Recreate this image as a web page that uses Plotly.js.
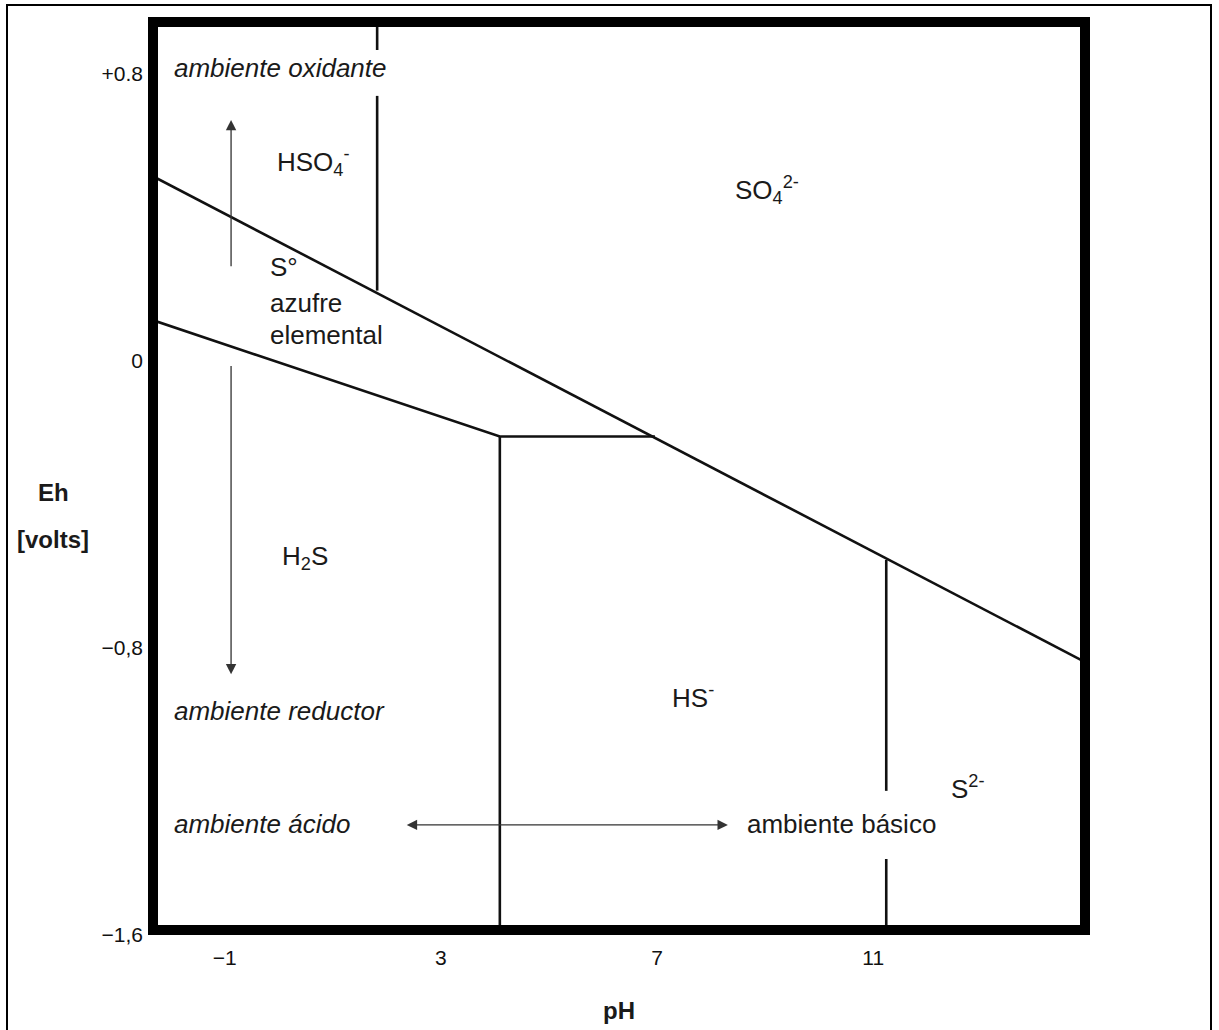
<!DOCTYPE html>
<html>
<head>
<meta charset="utf-8">
<script src="https://cdn.plot.ly/plotly-3.0.1.min.js"></script>
<style>html,body{margin:0;padding:0;background:#fff;}#chart{width:1219px;height:1030px;}</style>
</head>
<body>
<div id="chart"></div>
<script>
// ---- data (pH, Eh in volts) ----
// SO4 2- / reduced species boundary (upper diagonal)
const upperPH = [-2.42, 15.01];
const upperEh = [0.521, -0.848];
// S° / H2S boundary and S° / HS- boundary
const lowerPH = [-2.42, 4.09, 6.96];
const lowerEh = [0.117, -0.212, -0.212];
// vertical boundaries (null = break in the printed line around a label)
const hso4PH = [1.82, 1.82, null, 1.82, 1.82];
const hso4Eh = [0.96, 0.866, null, 0.738, 0.195];
const h2sPH = [4.09, 4.09];
const h2sEh = [-0.212, -1.61];
const hsPH = [11.24, 11.24, null, 11.24, 11.24];
const hsEh = [-0.556, -1.200, null, -1.390, -1.61];

// region labels
const regionText = ["HSO<sub>4</sub><sup>-</sup>", "SO<sub>4</sub><sup>2-</sup>", "S°", "azufre", "elemental",
                    "H<sub>2</sub>S", "HS<sup>-</sup>", "S<sup>2-</sup>"];
const regionPH = [-0.07, 8.40, -0.20, -0.20, -0.20, 0.02, 7.24, 12.40];
const regionEh = [0.555, 0.475, 0.262, 0.161, 0.072, -0.549, -0.936, -1.190];

// environment labels
const envText = ["ambiente oxidante", "ambiente reductor", "ambiente ácido", "ambiente básico"];
const envItalic = [true, true, true, false];
const envPH = [-1.975, -1.975, -1.975, 8.626];
const envEh = [0.816, -0.978, -1.293, -1.293];

// arrows: [tailPH, tailEh, headPH, headEh]
const arrowUp = [-0.883, 0.259, -0.883, 0.671];
const arrowDown = [-0.883, -0.011, -0.883, -0.875];
const arrowHoriz = [2.34, -1.295, 8.31, -1.295];

// ticks
const xTickVals = [-1, 3, 7, 11];
const xTickText = ["\u22121", "3", "7", "11"];
const yTickVals = [0.8, 0, -0.8, -1.6];
const yTickText = ["+0.8", "0", "\u22120,8", "\u22121,6"];
const xTitle = "pH";
const yTitleLines = ["Eh", "[volts]"];

const FONT = "Liberation Sans, Arial, Helvetica, sans-serif";
const lineStyle = {color: "#111", width: 2.6};

function seg(x, y) {
  return {x: x, y: y, type: "scatter", mode: "lines", line: lineStyle, connectgaps: false,
          hoverinfo: "skip", showlegend: false};
}
const traces = [
  seg(upperPH, upperEh), seg(lowerPH, lowerEh), seg(hso4PH, hso4Eh), seg(h2sPH, h2sEh), seg(hsPH, hsEh)
];

const annotations = [];
regionText.forEach((t, i) => annotations.push({
  x: regionPH[i], y: regionEh[i], xref: "x", yref: "y", text: t, showarrow: false,
  xanchor: "left", yanchor: "middle", font: {family: FONT, size: 26, color: "#1a1a1a"}
}));
envText.forEach((t, i) => annotations.push({
  x: envPH[i], y: envEh[i], xref: "x", yref: "y", text: envItalic[i] ? "<i>" + t + "</i>" : t, showarrow: false,
  xanchor: "left", yanchor: "middle", font: {family: FONT, size: 26, color: "#1a1a1a"}
}));
function arrow(a, both) {
  const o = {x: a[2], y: a[3], ax: a[0], ay: a[1], xref: "x", yref: "y", axref: "x", ayref: "y",
    text: "", showarrow: true, arrowhead: 2, arrowsize: 1.6, arrowwidth: 1.3, arrowcolor: "#333", standoff: 0, startstandoff: 0};
  if (both) { o.arrowside = "end+start"; o.startarrowhead = 2; o.startarrowsize = 1.6; }
  return o;
}
annotations.push(arrow(arrowUp, false), arrow(arrowDown, false), arrow(arrowHoriz, true));
// y-axis title (horizontal, two lines)
annotations.push({x: -0.1008, y: 0.4815, xref: "paper", yref: "paper", text: "<b>" + yTitleLines[0] + "</b>",
  showarrow: false, xanchor: "center", yanchor: "middle", font: {family: FONT, size: 24, color: "#1a1a1a"}});
annotations.push({x: -0.1008, y: 0.4303, xref: "paper", yref: "paper", text: "<b>" + yTitleLines[1] + "</b>",
  showarrow: false, xanchor: "center", yanchor: "middle", font: {family: FONT, size: 24, color: "#1a1a1a"}});

const W = 942, H = 918;
const shapes = [
  // thick frame
  {type: "rect", xref: "paper", yref: "paper", x0: 5 / W, x1: 1 - 5 / W, y0: 5 / H, y1: 1 - 5 / H,
   line: {color: "#000", width: 10}, fillcolor: "rgba(0,0,0,0)", layer: "above"},
  // outer thin border
  {type: "rect", xref: "paper", yref: "paper", x0: (7 - 148) / W, x1: (1211 - 148) / W,
   y0: -(1060 - 935) / H, y1: 1 + (17 - 5) / H, line: {color: "#000", width: 2}, fillcolor: "rgba(0,0,0,0)"}
];

const layout = {
  width: 1219, height: 1030,
  margin: {l: 148, r: 129, t: 17, b: 95},
  paper_bgcolor: "#fff", plot_bgcolor: "#fff",
  showlegend: false, hovermode: false,
  font: {family: FONT, color: "#1a1a1a"},
  xaxis: {range: [-2.42, 15.01], showgrid: false, zeroline: false, showline: false, ticks: "",
    tickvals: xTickVals, ticktext: xTickText, tickfont: {family: FONT, size: 21, color: "#111"},
    ticklabelstandoff: 8, fixedrange: true,
    title: {text: "<b>" + xTitle + "</b>", font: {family: FONT, size: 24, color: "#1a1a1a"}, standoff: 34}},
  yaxis: {range: [-1.602, 0.958], showgrid: false, zeroline: false, showline: false, ticks: "",
    tickvals: yTickVals, ticktext: yTickText, tickfont: {family: FONT, size: 21, color: "#111"},
    ticklabelstandoff: 4, fixedrange: true},
  shapes: shapes,
  annotations: annotations
};

Plotly.newPlot("chart", traces, layout, {displayModeBar: false, staticPlot: true});
</script>
</body>
</html>
